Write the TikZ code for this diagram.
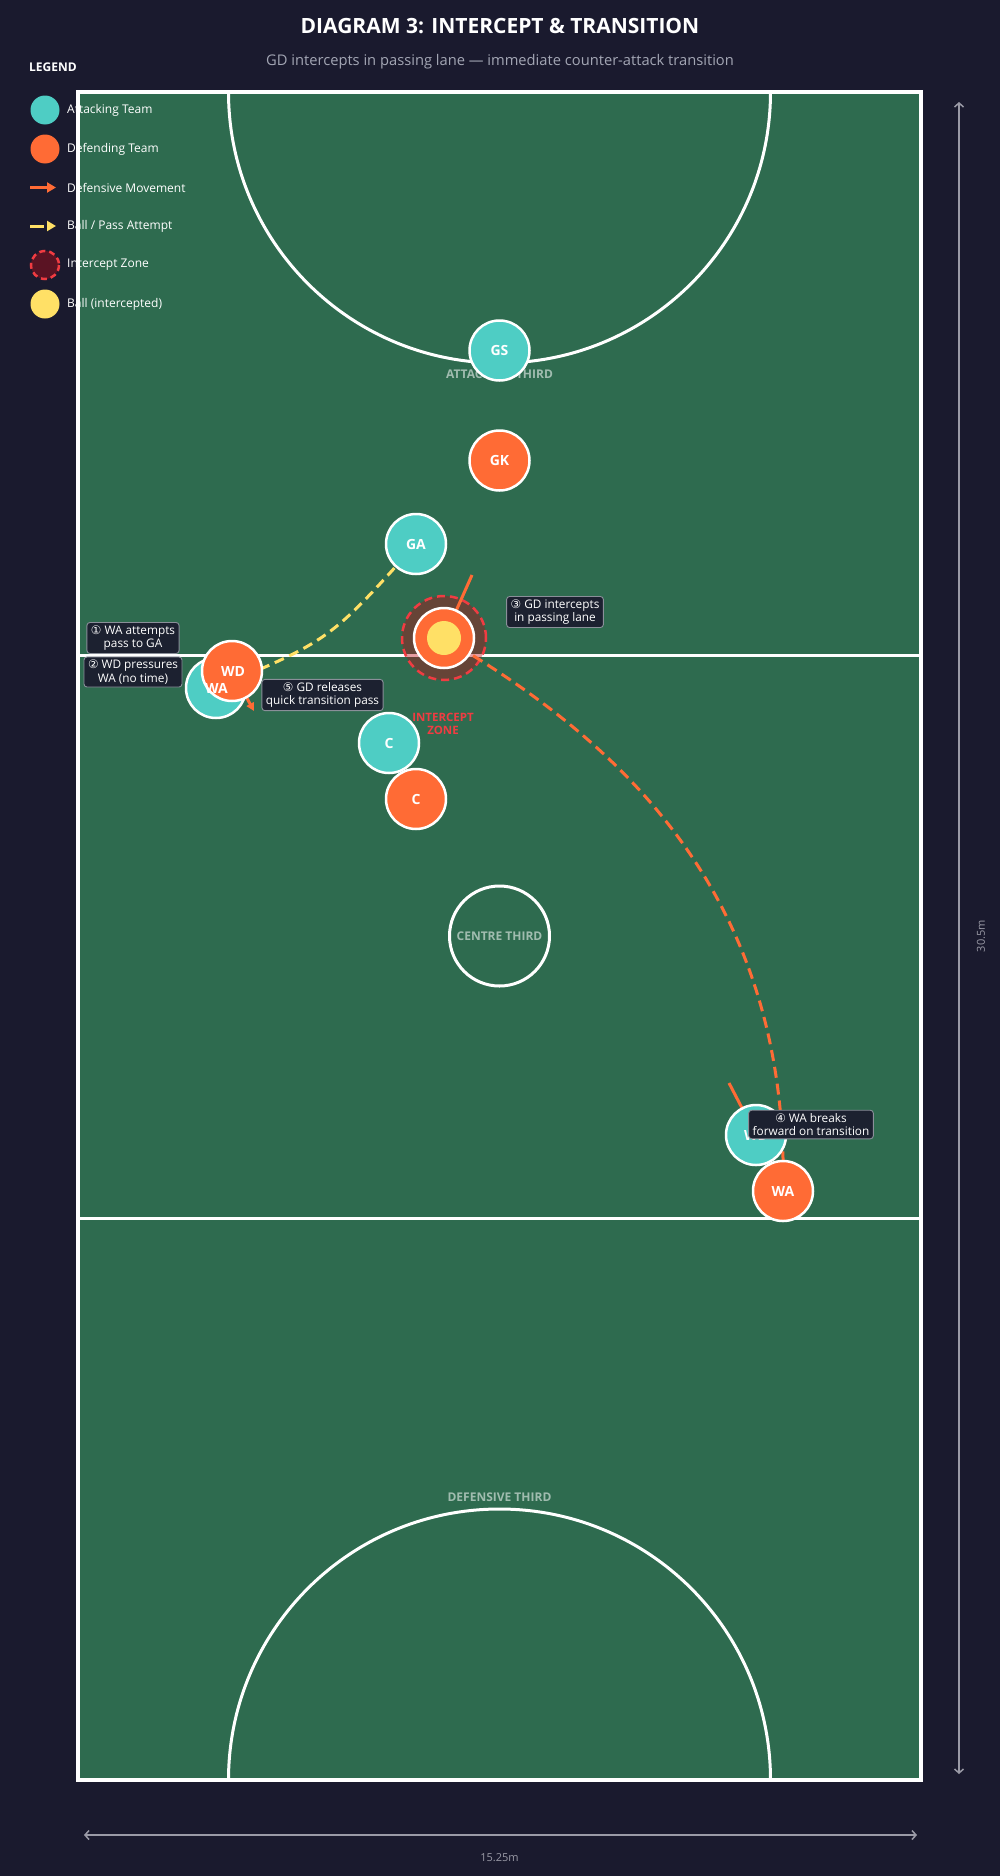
\documentclass[tikz,border=0pt]{standalone}
\usepackage{fontspec}
\setmainfont{Open Sans}
\newfontfamily\dejavu{DejaVu Sans}
\usetikzlibrary{arrows.meta}
\definecolor{bg}{HTML}{1A1A2E}
\definecolor{court}{HTML}{2E6B4F}
\definecolor{teal}{HTML}{4ECDC4}
\definecolor{orng}{HTML}{FF6B35}
\definecolor{yell}{HTML}{FFE066}
\definecolor{zred}{HTML}{F03C42}
\definecolor{zfill}{RGB}{188,10,20}
\definecolor{boxfill}{HTML}{1C2130}
\definecolor{boxdraw}{HTML}{8A8F99}
\definecolor{dimc}{HTML}{9A9AA6}
\definecolor{subc}{HTML}{A3A6B4}
\begin{document}
\begin{tikzpicture}[x=1pt,y=-1pt,
  player/.style={circle,draw=white,line width=2.5pt,minimum size=60pt,inner sep=0pt},
  att/.style={player,fill=teal},
  def/.style={player,fill=orng},
  plabel/.style={text=white,font=\bfseries\fontsize{14}{16}\selectfont,inner sep=0pt},
  callout/.style={draw=boxdraw,fill=boxfill,line width=0.9pt,rounded corners=3pt,text=white,
    font=\fontsize{11.8}{13.5}\selectfont,align=center,inner xsep=4pt,inner ysep=3pt},
  zonelabel/.style={text=white,text opacity=0.55,font=\bfseries\fontsize{12}{14}\selectfont},
  legtext/.style={text=white,font=\fontsize{12}{14}\selectfont,anchor=west,inner sep=0pt},
  move/.style={draw=orng,line width=3pt},
  dimline/.style={draw=dimc,line width=1.5pt,{Straight Barb[length=4pt,width=9pt]}-{Straight Barb[length=4pt,width=9pt]}},
  courtline/.style={draw=white,line width=3pt}
]
\useasboundingbox (0,0) rectangle (1000,1876);
\fill[bg] (0,0) rectangle (1000,1876);

% title
\node[text=white,font=\bfseries\fontsize{21}{25}\selectfont] (title) at (500,26) {DIAGRAM 3: INTERCEPT \& TRANSITION};
\node[text=subc,font=\fontsize{14.7}{17}\selectfont] (subtitle) at (500,62) {GD intercepts in passing lane — immediate counter-attack transition};

% court
\fill[court] (78,92) rectangle (921,1780);
\begin{scope}
  \clip (78,92) rectangle (921,1780);
  \draw[courtline] (499.5,92) circle[radius=271];
  \draw[courtline] (499.5,1780) circle[radius=271];
\end{scope}
\draw[courtline] (78,655) -- (921,655);
\draw[courtline] (78,1218) -- (921,1218);
\draw[courtline] (499.5,936) circle[radius=50];
\draw[draw=white,line width=4pt] (78,92) rectangle (921,1780);

% zone labels
\node[zonelabel] (attthird) at (499.5,374) {ATTACKING THIRD};
\node[zonelabel] (centhird) at (499.5,936) {CENTRE THIRD};
\node[zonelabel] (defthird) at (499.5,1497) {DEFENSIVE THIRD};

% legend
\node[text=white,font=\bfseries\fontsize{12}{14}\selectfont,anchor=west,inner sep=0pt] (legend) at (29,67) {LEGEND};
\fill[teal] (45,110) circle[radius=14.5];
\node[legtext] (l1) at (67,110) {Attacking Team};
\fill[orng] (45,149) circle[radius=14.5];
\node[legtext] (l2) at (67,149) {Defending Team};
\draw[orng,line width=3pt,-{Triangle[length=9pt,width=10pt]}] (30,187.5) -- (56,187.5);
\node[legtext] (l3) at (67,187.5) {Defensive Movement};
\draw[yell,line width=3pt,dash pattern=on 14pt off 3pt,-{Triangle[length=9pt,width=10pt]}] (30,226) -- (56,226);
\node[legtext] (l4) at (67,226) {Ball / Pass Attempt};
\fill[zfill,fill opacity=0.4] (45,265) circle[radius=14];
\draw[zred,line width=2.5pt,dash pattern=on 6pt off 4pt] (45,265) circle[radius=14];
\node[legtext] (l5) at (67,265) {Intercept Zone};
\fill[yell] (45,304) circle[radius=14.5];
\node[legtext] (l6) at (67,304) {Ball (intercepted)};

% intercept zone
\node[circle,minimum size=84pt,inner sep=0pt,fill=zfill,fill opacity=0.4,draw=zred,draw opacity=1,line width=2.5pt,dash pattern=on 8pt off 5pt] (zone) at (444,638) {};
\node[text=zred,font=\bfseries\fontsize{11.5}{13.5}\selectfont,align=center] (zonetxt) at (443,724) {INTERCEPT\\ZONE};

% player positions (coordinates for connectors)
\coordinate (p-waa) at (216,688);
\coordinate (p-ga) at (416,544);
\coordinate (p-gd) at (444,638);
\coordinate (p-wad) at (783,1191);
\coordinate (p-wda) at (232,671);
\coordinate (p-wdr) at (756,1135);
\coordinate (gdmv) at (472,575);
\coordinate (wdrmv) at (729,1083);
\coordinate (wdamv) at (254,711);

% connectors
\draw[yell,line width=3pt,dash pattern=on 10pt off 6pt] (p-waa) .. controls (330,640) .. (p-ga);
\draw[orng,line width=3pt,dash pattern=on 11pt off 6pt] (p-gd) .. controls (600,730) and (790,880) .. (p-wad);
\draw[move] (p-gd) -- (gdmv);
\draw[move] (p-wdr) -- (wdrmv);
\draw[move,-{Triangle[length=8pt,width=8pt]}] (p-wda) -- (wdamv);

% players
\node[att] (gs) at (499.5,350.5) {};
\node[def] (gk) at (499.5,460.5) {};
\node[att] (ga) at (p-ga) {};
\node[def] (gd) at (p-gd) {};
\node[circle,fill=yell,minimum size=34pt,inner sep=0pt] (ball) at (p-gd) {};
\node[att] (waa) at (p-waa) {};
\node[def] (wda) at (p-wda) {};
\node[att] (ca) at (389,743) {};
\node[def] (cd) at (416,799) {};
\node[att] (wdr) at (p-wdr) {};
\node[def] (wad) at (p-wad) {};

% player labels
\node[plabel] (gs-l) at (gs) {GS};
\node[plabel] (gk-l) at (gk) {GK};
\node[plabel] (ga-l) at (ga) {GA};
\node[plabel] (waa-l) at (216.5,688) {WA};
\node[plabel] (wda-l) at (233,671) {WD};
\node[plabel] (ca-l) at (ca) {C};
\node[plabel] (cd-l) at (cd) {C};
\node[plabel] (wdr-l) at (wdr) {WD};
\node[plabel] (wad-l) at (wad) {WA};

% callouts
\node[callout] (c1) at (133,638) {{\dejavu ①} WA attempts\\pass to GA};
\node[callout] (c2) at (133,672) {{\dejavu ②} WD pressures\\WA (no time)};
\node[callout] (c3) at (555,612) {{\dejavu ③} GD intercepts\\in passing lane};
\node[callout] (c4) at (811,1124.5) {{\dejavu ④} WA breaks\\forward on transition};
\node[callout] (c5) at (322.5,695) {{\dejavu ⑤} GD releases\\quick transition pass};

% dimensions
\coordinate (dh1) at (84,1835);
\coordinate (dh2) at (917,1835);
\draw[dimline] (dh1) -- (dh2);
\node[text=dimc,font=\fontsize{11}{13}\selectfont] (dhl) at (499.5,1858) {15.25m};
\coordinate (dv1) at (959,102);
\coordinate (dv2) at (959,1774);
\draw[dimline] (dv1) -- (dv2);
\node[text=dimc,font=\fontsize{11}{13}\selectfont,rotate=90] (dvl) at (981,936) {30.5m};
\end{tikzpicture}
\end{document}
